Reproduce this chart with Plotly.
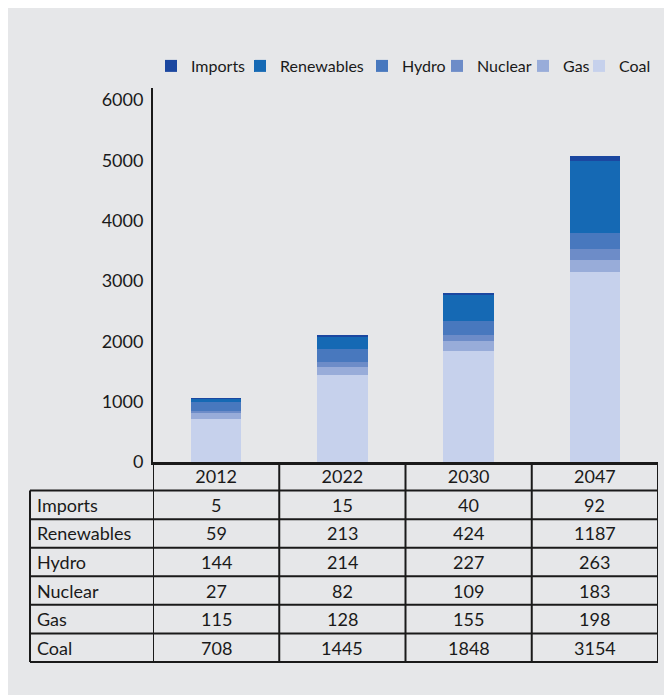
import plotly.graph_objects as go

years = ["2012", "2022", "2030", "2047"]
series_names = ["Imports", "Renewables", "Hydro", "Nuclear", "Gas", "Coal"]
imports = [5, 15, 40, 92]
renewables = [59, 213, 424, 1187]
hydro = [144, 214, 227, 263]
nuclear = [27, 82, 109, 183]
gas = [115, 128, 155, 198]
coal = [708, 1445, 1848, 3154]
y_ticks = [0, 1000, 2000, 3000, 4000, 5000, 6000]

values = {
    "Imports": imports,
    "Renewables": renewables,
    "Hydro": hydro,
    "Nuclear": nuclear,
    "Gas": gas,
    "Coal": coal,
}
colors = {
    "Imports": "#1b47a0",
    "Renewables": "#1569b4",
    "Hydro": "#4878be",
    "Nuclear": "#6d8cc8",
    "Gas": "#98acd9",
    "Coal": "#c6d1ec",
}
# horizontal start of each legend entry's text (page px)
legend_text_x = {"Imports": 191, "Renewables": 280, "Hydro": 402,
                 "Nuclear": 477, "Gas": 563, "Coal": 619}

FONT = "Lato"
TXT = "#1a1a1a"
BG = "#e6e7e9"

# geometry (figure px; page adds an 8px body margin)
W, H = 664, 687
ml, mr, mt, mb = 145, 14, 80, 233
pw = W - ml - mr
ph = H - mt - mb
row_h = 200 / 7 / ph  # paper units per table row
left_x = (22 - ml) / pw

fig = go.Figure()
legend_layouts = {}
# stack from bottom (Coal) to top (Imports)
for idx, name in enumerate(series_names):
    lg = "legend" if idx == 0 else f"legend{idx + 1}"
    legend_layouts[lg] = dict(
        orientation="h", xanchor="left", yanchor="middle",
        x=(legend_text_x[name] - 8 - 40 - ml) / pw,
        y=(ph - (58 - mt)) / ph,
        font=dict(family=FONT, size=16, color=TXT),
        bgcolor="rgba(0,0,0,0)", itemwidth=30,
    )
for idx in reversed(range(len(series_names))):
    name = series_names[idx]
    lg = "legend" if idx == 0 else f"legend{idx + 1}"
    fig.add_trace(go.Bar(
        x=years, y=values[name], name=name, legend=lg,
        marker=dict(color=colors[name], line=dict(width=0)),
        width=0.4,
    ))

shapes = []
LINE = dict(color=TXT, width=2)
n_rows = len(series_names) + 1
# horizontal table lines
for k in range(1, n_rows + 1):
    shapes.append(dict(type="line", xref="paper", yref="paper",
                       x0=left_x, x1=1, y0=-k * row_h, y1=-k * row_h, line=LINE))
# vertical lines at category boundaries
for i in range(len(years) + 1):
    shapes.append(dict(type="line", xref="x", yref="paper",
                       x0=i - 0.5, x1=i - 0.5, y0=0, y1=-n_rows * row_h, line=LINE))
# left border of label column
shapes.append(dict(type="line", xref="paper", yref="paper",
                   x0=left_x, x1=left_x, y0=-row_h, y1=-n_rows * row_h, line=LINE))

annotations = []
for r, name in enumerate(series_names):
    yc = -(r + 1.5) * row_h
    annotations.append(dict(xref="paper", yref="paper", x=left_x + 5 / pw, y=yc,
                            text=name, showarrow=False, xanchor="left", yanchor="middle",
                            font=dict(family=FONT, size=18, color=TXT)))
    for j in range(len(years)):
        annotations.append(dict(xref="x", yref="paper", x=j, y=yc,
                                text=str(values[name][j]), showarrow=False,
                                xanchor="center", yanchor="middle",
                                font=dict(family=FONT, size=18, color=TXT)))

fig.update_layout(
    width=W, height=H,
    margin=dict(l=ml, r=mr, t=mt, b=mb),
    paper_bgcolor=BG, plot_bgcolor="rgba(0,0,0,0)",
    barmode="stack",
    font=dict(family=FONT, size=18, color=TXT),
    showlegend=True,
    xaxis=dict(type="category", categoryorder="array", categoryarray=years,
               range=[-0.5, 3.5], showline=True, linecolor=TXT, linewidth=2.5,
               ticks="", showgrid=False, zeroline=False,
               tickfont=dict(family=FONT, size=18, color=TXT), ticklabelstandoff=-3),
    yaxis=dict(range=[0, 6200], tickvals=y_ticks, showline=True, linecolor=TXT,
               linewidth=2, ticks="", showgrid=False, zeroline=False,
               tickfont=dict(family=FONT, size=18, color=TXT), ticklabelstandoff=4),
    shapes=shapes, annotations=annotations,
    bargap=0.6,
    **legend_layouts,
)

fig.write_html("out.html")
